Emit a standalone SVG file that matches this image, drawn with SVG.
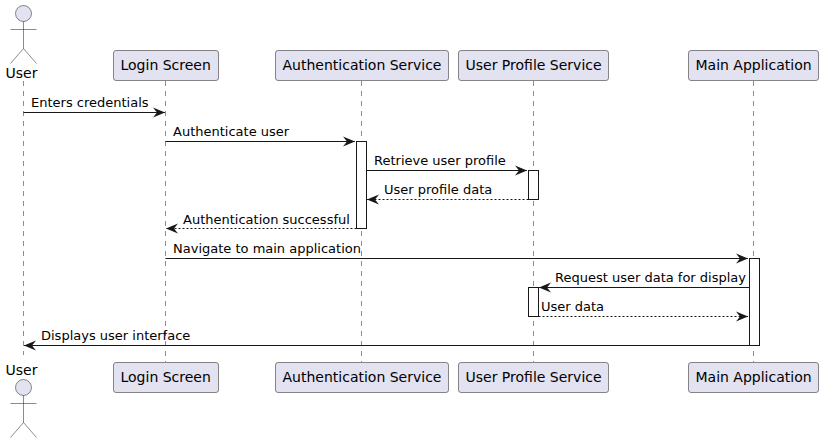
<svg xmlns="http://www.w3.org/2000/svg" width="824" height="443" viewBox="0 0 824 443">
<style>
text{font-family:"DejaVu Sans",sans-serif;fill:#000}
.n{font-size:14px}
.m{font-size:13px}
.box{fill:#E2E2F0;stroke:#181818;stroke-width:.5}
.actor{fill:none;stroke:#181818;stroke-width:.5}
.head{fill:#E2E2F0;stroke:#181818;stroke-width:.5}
.life{stroke:#181818;stroke-width:.5;stroke-dasharray:5 5;fill:none}
.act{fill:#fff;stroke:#181818;stroke-width:1}
.s{stroke:#181818;stroke-width:1;fill:none}
.d{stroke:#181818;stroke-width:1;fill:none;stroke-dasharray:2 2}
</style>
<defs>
<marker id="ar" markerUnits="userSpaceOnUse" markerWidth="14" markerHeight="12" refX="12" refY="5" orient="auto" overflow="visible"><path d="M0 0L12 5L0 10L4 5Z" fill="#181818"/></marker>
</defs>
<g id="lifelines">
<path class="life" d="M23.5 81V355"/>
<path class="life" d="M165.5 81V362"/>
<path class="life" d="M361.5 81V362"/>
<path class="life" d="M533.5 81V362"/>
<path class="life" d="M753.5 81V362"/>
</g>
<g id="activations">
<rect class="act" x="356.500" y="141.500" width="10" height="87"/>
<rect class="act" x="528.500" y="170.500" width="10" height="29"/>
<rect class="act" x="749.500" y="258.500" width="10" height="87"/>
<rect class="act" x="528.500" y="287.500" width="10" height="29"/>
</g>
<g id="connectors">
<path class="s" d="M23.5 112.500H165" marker-end="url(#ar)"/>
<path class="s" d="M165.500 141.500H355" marker-end="url(#ar)"/>
<path class="s" d="M366.500 170.500H527" marker-end="url(#ar)"/>
<path class="d" d="M528.500 199.500H367" marker-end="url(#ar)"/>
<path class="d" d="M356.500 228.500H166" marker-end="url(#ar)"/>
<path class="s" d="M165.500 258.500H748" marker-end="url(#ar)"/>
<path class="s" d="M749.500 287.500H539" marker-end="url(#ar)"/>
<path class="d" d="M538.500 316.500H748" marker-end="url(#ar)"/>
<path class="s" d="M749.500 345.500H24" marker-end="url(#ar)"/>
<text class="m" x="31" y="107">Enters credentials</text>
<text class="m" x="173" y="136">Authenticate user</text>
<text class="m" x="374" y="165">Retrieve user profile</text>
<text class="m" x="384" y="194">User profile data</text>
<text class="m" x="183" y="224">Authentication successful</text>
<text class="m" x="173" y="253">Navigate to main application</text>
<text class="m" x="555" y="282">Request user data for display</text>
<text class="m" x="541" y="311">User data</text>
<text class="m" x="41" y="340">Displays user interface</text>
</g>
<g id="user-top">
<circle class="head" cx="23.500" cy="13.500" r="8"/>
<path class="actor" d="M23.500 21.500V48.500M10.500 29.500H36.500M23.500 48.500L10.500 63.500M23.500 48.500L36.500 63.500"/>
<text class="n" x="5.500" y="78">User</text>
</g>
<g id="login-top"><rect class="box" x="113.500" y="50.500" width="105" height="30" rx="2.500"/><text class="n" x="120.500" y="70">Login Screen</text></g>
<g id="auth-top"><rect class="box" x="275.500" y="50.500" width="173" height="30" rx="2.500"/><text class="n" x="282.500" y="70">Authentication Service</text></g>
<g id="profile-top"><rect class="box" x="458.500" y="50.500" width="150" height="30" rx="2.500"/><text class="n" x="465.500" y="70">User Profile Service</text></g>
<g id="main-top"><rect class="box" x="688.500" y="50.500" width="130" height="30" rx="2.500"/><text class="n" x="695.500" y="70">Main Application</text></g>
<g id="user-bottom">
<text class="n" x="5.500" y="375">User</text>
<circle class="head" cx="23.500" cy="387.500" r="8"/>
<path class="actor" d="M23.500 395.500V422.500M10.500 403.500H36.500M23.500 422.500L10.500 437.500M23.500 422.500L36.500 437.500"/>
</g>
<g id="login-bottom"><rect class="box" x="113.500" y="362.500" width="105" height="30" rx="2.500"/><text class="n" x="120.500" y="382">Login Screen</text></g>
<g id="auth-bottom"><rect class="box" x="275.500" y="362.500" width="173" height="30" rx="2.500"/><text class="n" x="282.500" y="382">Authentication Service</text></g>
<g id="profile-bottom"><rect class="box" x="458.500" y="362.500" width="150" height="30" rx="2.500"/><text class="n" x="465.500" y="382">User Profile Service</text></g>
<g id="main-bottom"><rect class="box" x="688.500" y="362.500" width="130" height="30" rx="2.500"/><text class="n" x="695.500" y="382">Main Application</text></g>
</svg>
